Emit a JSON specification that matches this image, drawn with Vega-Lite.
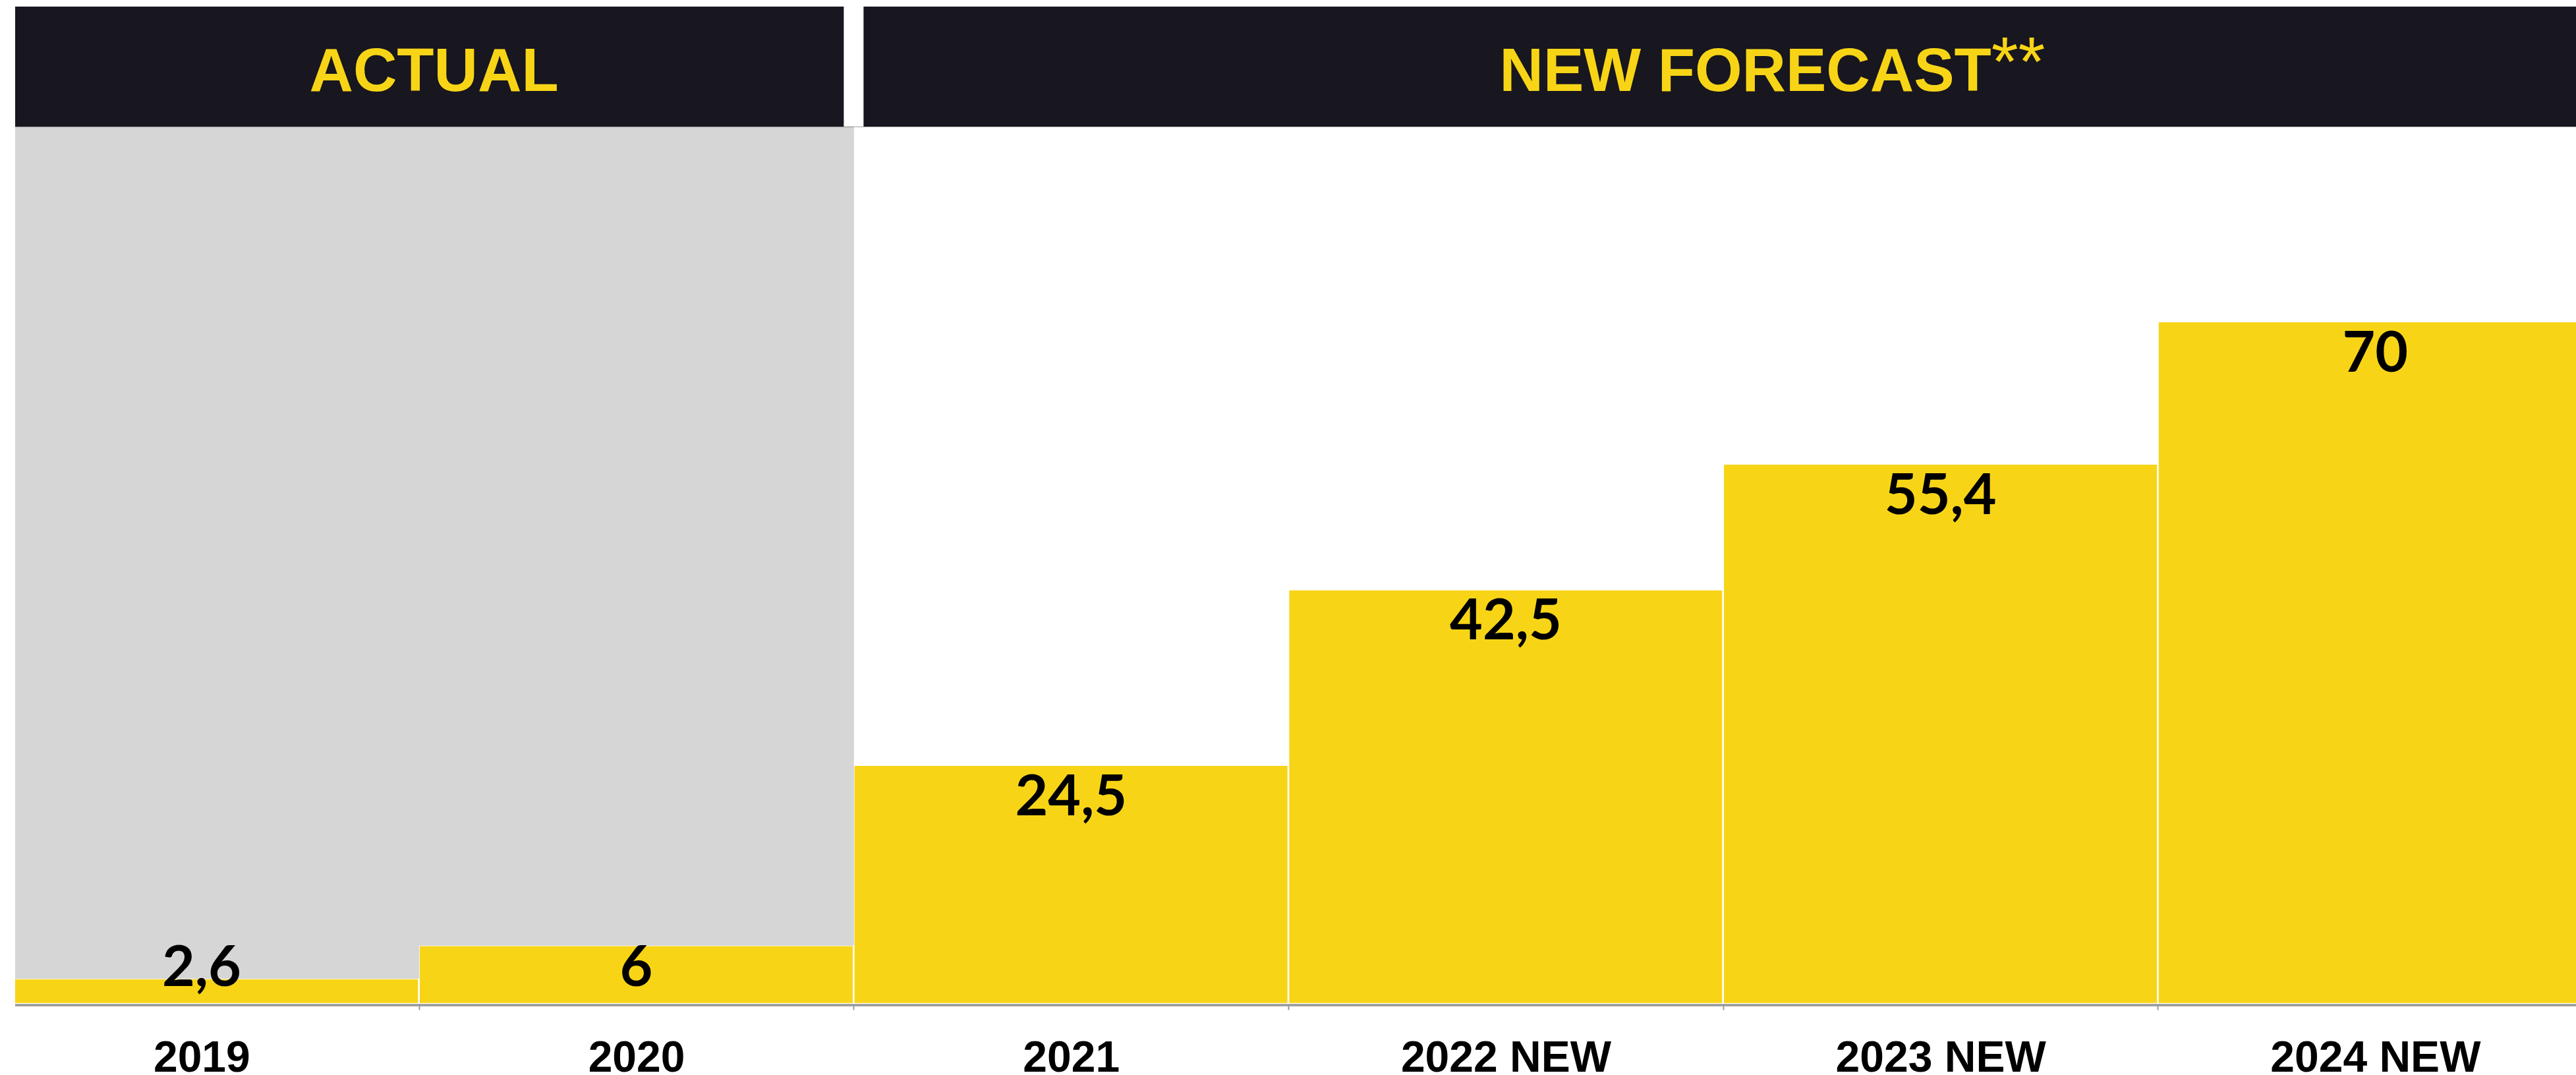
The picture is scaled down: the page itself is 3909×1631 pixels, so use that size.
{
  "$schema": "https://vega.github.io/schema/vega-lite/v6.json",
  "width": 3886,
  "height": 1513,
  "padding": {"left": 23, "top": 10, "right": 0, "bottom": 108},
  "autosize": {"type": "none"},
  "background": "white",
  "config": {"view": {"stroke": null}},
  "data": {
    "values": [
      {"year": "2019", "value": 2.6, "label": "2,6", "period": "ACTUAL"},
      {"year": "2020", "value": 6, "label": "6", "period": "ACTUAL"},
      {"year": "2021", "value": 24.5, "label": "24,5", "period": "NEW FORECAST"},
      {"year": "2022 NEW", "value": 42.5, "label": "42,5", "period": "NEW FORECAST"},
      {"year": "2023 NEW", "value": 55.4, "label": "55,4", "period": "NEW FORECAST"},
      {"year": "2024 NEW", "value": 70, "label": "70", "period": "NEW FORECAST"}
    ]
  },
  "layer": [
    {
      "mark": {"type": "bar", "color": "#F7D516", "stroke": "white", "strokeWidth": 2.5, "clip": true},
      "encoding": {
        "x": {
          "field": "year",
          "type": "ordinal",
          "scale": {"range": [-47, 3911.2], "paddingInner": 0, "paddingOuter": 0},
          "axis": {
            "title": null,
            "domain": false,
            "grid": false,
            "ticks": true,
            "tickBand": "extent",
            "tickColor": "#9b9b9b",
            "tickWidth": 2,
            "tickSize": 7,
            "offset": 2,
            "labelFont": "Liberation Sans",
            "labelFontWeight": "bold",
            "labelFontSize": 66,
            "labelColor": "black",
            "labelBaseline": "alphabetic",
            "labelPadding": 93,
            "labelAngle": 0,
            "labelLimit": 1000,
            "labelOverlap": false,
            "labelBound": false
          }
        },
        "y": {
          "field": "value",
          "type": "quantitative",
          "scale": {"domain": [0, 102.3], "nice": false, "zero": true},
          "axis": null
        }
      }
    },
    {
      "transform": [{"filter": "datum.period === 'ACTUAL'"}],
      "mark": {"type": "rect", "color": "#D6D6D6", "stroke": "#D6D6D6", "strokeWidth": 1, "clip": true},
      "encoding": {
        "x": {"field": "year", "type": "ordinal"},
        "y": {"field": "value", "type": "quantitative"},
        "y2": {"datum": 90}
      }
    },
    {
      "transform": [{"filter": "datum.period == 'ACTUAL'"}],
      "mark": {"type": "rect", "color": "#18161F", "stroke": "#18161F", "strokeWidth": 1, "clip": true},
      "encoding": {
        "x": {"field": "year", "type": "ordinal"},
        "y": {"datum": 90, "type": "quantitative"},
        "y2": {"datum": 102.3}
      }
    },
    {
      "transform": [{"filter": "datum.period === 'NEW FORECAST'"}],
      "mark": {"type": "rect", "color": "#18161F", "stroke": "#18161F", "strokeWidth": 1, "clip": true},
      "encoding": {
        "x": {"field": "year", "type": "ordinal"},
        "y": {"datum": 90, "type": "quantitative"},
        "y2": {"datum": 102.3}
      }
    },
    {
      "transform": [{"filter": "datum.year === '2021'"}],
      "mark": {"type": "rule", "color": "white", "strokeWidth": 30, "strokeCap": "butt", "clip": true},
      "encoding": {
        "x": {"field": "year", "type": "ordinal", "bandPosition": 0},
        "y": {"datum": 90, "type": "quantitative"},
        "y2": {"datum": 102.3}
      }
    },
    {
      "mark": {"type": "rule", "color": "#9b9b9b", "strokeWidth": 2.5, "yOffset": 2},
      "encoding": {"y": {"datum": 0, "type": "quantitative"}}
    },
    {
      "transform": [{"filter": "datum.value >= 10"}],
      "mark": {"type": "text", "font": "Lato", "fontWeight": "bold", "fontSize": 86, "color": "black", "align": "center", "baseline": "alphabetic", "dy": 76},
      "encoding": {
        "x": {"field": "year", "type": "ordinal"},
        "y": {"field": "value", "type": "quantitative"},
        "text": {"field": "label"}
      }
    },
    {
      "transform": [{"filter": "datum.value < 10"}],
      "mark": {"type": "text", "font": "Lato", "fontWeight": "bold", "fontSize": 86, "color": "black", "align": "center", "baseline": "alphabetic", "dy": -27.5},
      "encoding": {
        "x": {"field": "year", "type": "ordinal"},
        "y": {"datum": 0, "type": "quantitative"},
        "text": {"field": "label"}
      }
    },
    {
      "transform": [{"filter": "datum.year === '2020'"}],
      "mark": {"type": "text", "font": "Liberation Sans", "fontWeight": "bold", "fontSize": 92, "color": "#F7D516", "align": "center", "baseline": "alphabetic", "dy": -54, "dx": -307},
      "encoding": {
        "x": {"field": "year", "type": "ordinal"},
        "y": {"datum": 90, "type": "quantitative"},
        "text": {"field": "period"}
      }
    },
    {
      "transform": [{"filter": "datum.year === '2023 NEW'"}],
      "mark": {"type": "text", "font": "Liberation Sans", "fontWeight": "bold", "fontSize": 92, "color": "#F7D516", "align": "center", "baseline": "alphabetic", "dy": -54, "dx": -296},
      "encoding": {
        "x": {"field": "year", "type": "ordinal"},
        "y": {"datum": 90, "type": "quantitative"},
        "text": {"field": "period"}
      }
    },
    {
      "transform": [{"filter": "datum.year == '2023 NEW'"}],
      "mark": {"type": "text", "font": "Liberation Sans", "fontWeight": "normal", "fontSize": 105, "color": "#F7D516", "align": "left", "baseline": "alphabetic", "dy": -62, "dx": 77},
      "encoding": {
        "x": {"field": "year", "type": "ordinal"},
        "y": {"datum": 90, "type": "quantitative"},
        "text": {"value": "**"}
      }
    }
  ]
}
